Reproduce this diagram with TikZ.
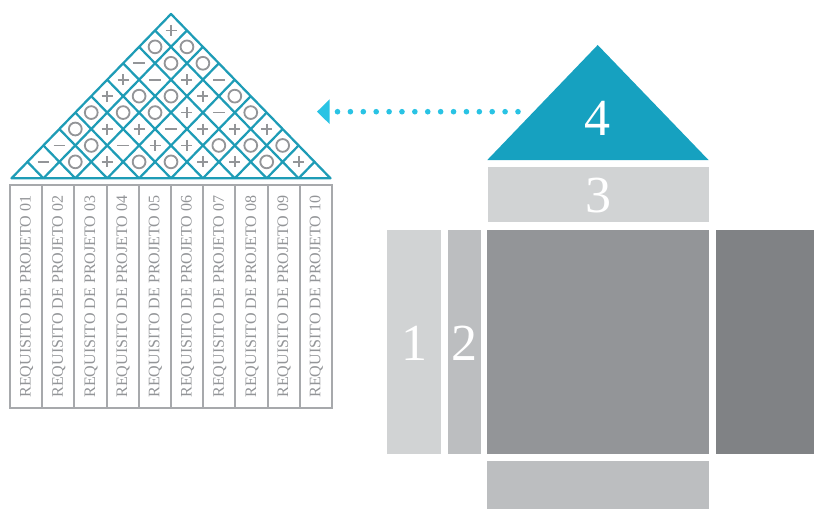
\documentclass[tikz,border=0pt]{standalone}
\usepackage{fontspec}
\setmainfont{Liberation Serif}
\usepackage{tikz}
\usetikzlibrary{arrows.meta,positioning}
\definecolor{roofteal}{RGB}{30,156,182}
\definecolor{topteal}{RGB}{22,161,192}
\definecolor{dotcyan}{RGB}{41,195,228}
\definecolor{symgrey}{RGB}{147,149,152}
\definecolor{colgrey}{RGB}{167,169,172}
\definecolor{boxlight}{RGB}{209,211,212}
\definecolor{boxmid}{RGB}{188,190,192}
\definecolor{boxdark}{RGB}{147,149,152}
\definecolor{boxdarker}{RGB}{128,130,133}
\newcommand{\reqfont}{\fontsize{11.4}{13}\selectfont}
\newcommand{\bigfont}{\fontsize{37}{40}\selectfont}

\begin{document}
\begin{tikzpicture}[x=0.25mm,y=-0.25mm,>=Latex,
  reqcol/.style={draw=colgrey,line width=1.3pt},
  reqtxt/.style={rotate=90,text=symgrey,font=\reqfont,inner sep=0pt},
  roof/.style={draw=roofteal,line width=1.6pt,line join=round},
  bignum/.style={text=white,font=\bigfont,inner sep=0pt},
  sym/.style={draw=symgrey,line width=1.3pt},
  symo/.pic={\draw[sym] (0,0) circle (6.4);},
  symp/.pic={\draw[sym] (-5.5,0)--(5.5,0) (0,-5.5)--(0,5.5);},
  symm/.pic={\draw[sym] (-5.8,0)--(5.8,0);}]
\useasboundingbox (0,0) rectangle (814,509);
\foreach \i in {1,...,10}{
  \draw[reqcol] ({10+(\i-1)*32.2},185) rectangle ++(32.2,223);
  \node[reqtxt] (req\i) at ({26.6+(\i-1)*32.2},296.5) {REQUISITO DE PROJETO \ifnum\i<10 0\fi\i};
}
\draw[roof] (11.5,178.3) -- (171,14) -- (330.5,178.3) -- cycle;
\foreach \k in {1,...,9}{
  \draw[roof] ({11.5+\k*31.9},178.3) -- ({11.5+(\k+10)/2*31.9},{178.3-(10-\k)*16.43});
  \draw[roof] ({11.5+\k*31.9},178.3) -- ({11.5+\k/2*31.9},{178.3-\k*16.43});
}
\foreach \r/\row in {1/{m,o,p,o,o,p,p,o,p},2/{m,o,m,p,p,o,o,o},3/{o,p,p,m,p,p,p},
  4/{o,o,o,p,m,o},5/{p,o,o,p,o},6/{p,m,p,m},7/{m,o,o},8/{o,o},9/{p}}{
  \foreach \s [count=\j] in \row
    \pic at ({11.5+(\j+(\r-1)/2)*31.9},{178.3-\r*16.43}) {sym\s};
}
\fill[topteal] (487.3,160) -- (597.7,45) -- (708.5,160) -- cycle;
\node[bignum] (n4) at (597.7,118) {4};
\fill[boxlight] (487.5,167.3) rectangle (708.5,222.3);
\node[bignum] (n3) at (598.5,195.5) {3};
\fill[boxlight] (387.3,230) rectangle (440.7,454.3);
\node[bignum] (n1) at (414.5,343.5) {1};
\fill[boxmid] (447.7,230) rectangle (480.7,454.3);
\node[bignum] (n2) at (464,343) {2};
\fill[boxdark] (487.3,230) rectangle (708.7,454.3);
\fill[boxdarker] (715.7,230) rectangle (814,454.3);
\fill[boxmid] (487.3,460.7) rectangle (708.5,509);
\coordinate (dotstart) at (518,111.7);
\coordinate (dotend) at (317,111.7);
\draw[dotcyan,line width=4pt,line cap=round,dash pattern=on 0pt off 9.17pt,
  -{Triangle[length=9pt,width=17.6pt,line width=0pt]}] (dotstart) -- (dotend);
\end{tikzpicture}
\end{document}
